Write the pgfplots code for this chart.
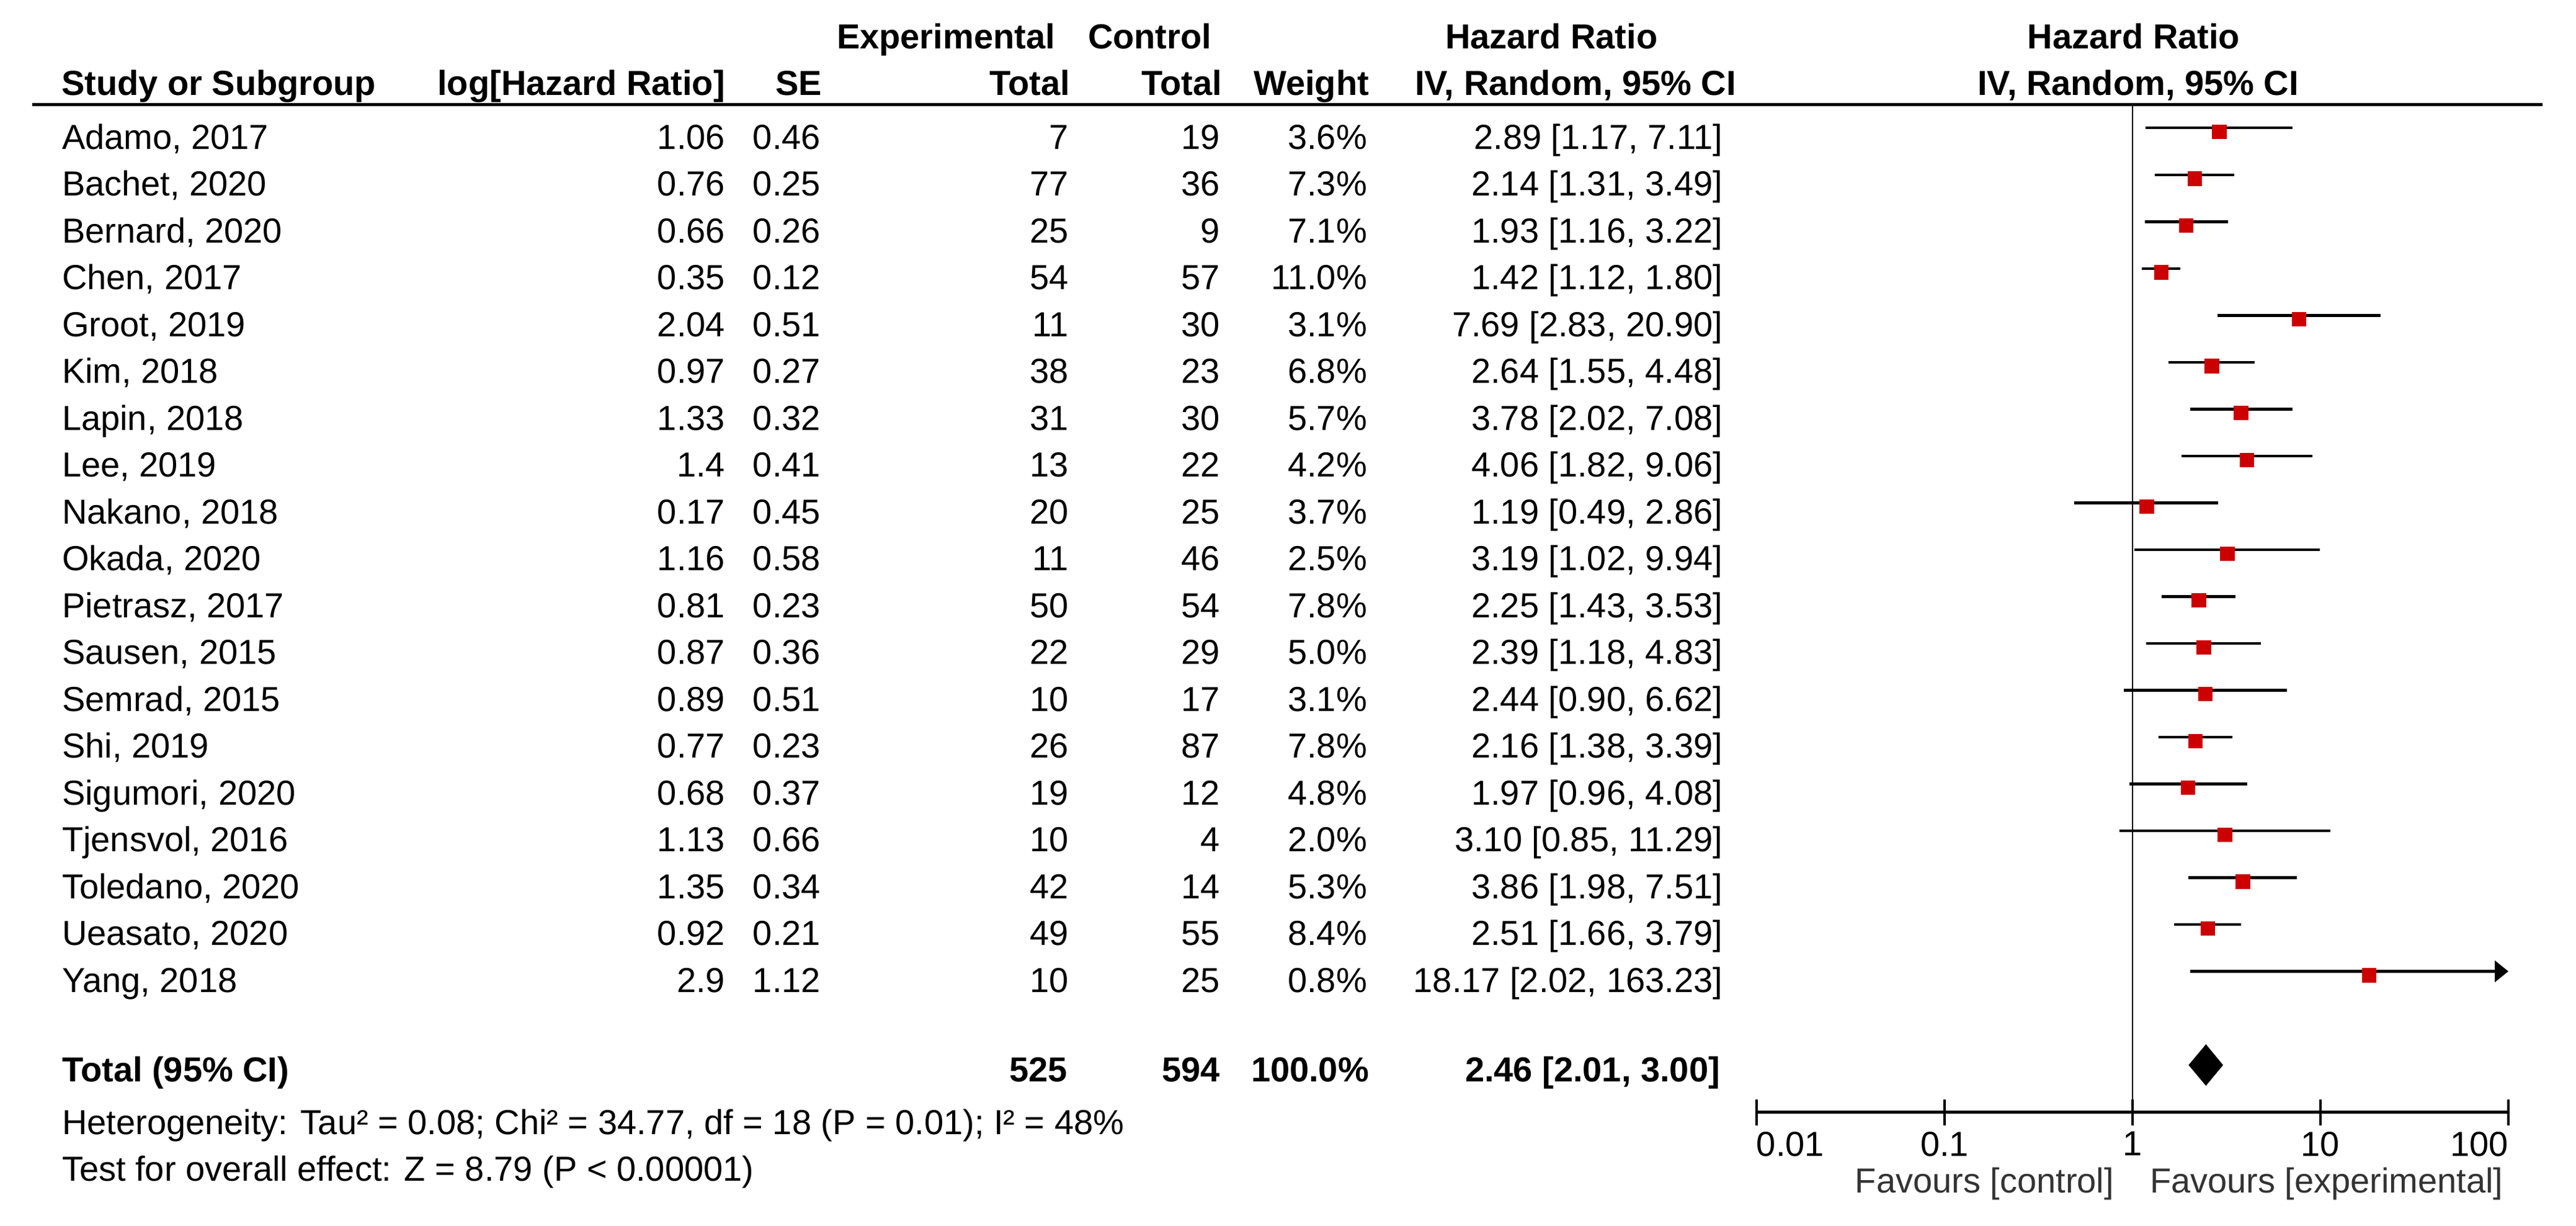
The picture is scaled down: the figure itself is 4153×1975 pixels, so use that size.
\documentclass[border=0pt]{standalone}
\usepackage{fontspec}
\setmainfont{Liberation Sans}
\usepackage{pgfplots}
\pgfplotsset{compat=1.18}
\usepackage{pgfplotstable}
\usetikzlibrary{arrows.meta}
\definecolor{hrred}{RGB}{204,0,0}

% row, hazard ratio, 95% CI, weight (%)
\pgfplotstableread{
r  hr    lo   hi     w
0  2.89  1.17 7.11   3.6
1  2.14  1.31 3.49   7.3
2  1.93  1.16 3.22   7.1
3  1.42  1.12 1.80   11.0
4  7.69  2.83 20.90  3.1
5  2.64  1.55 4.48   6.8
6  3.78  2.02 7.08   5.7
7  4.06  1.82 9.06   4.2
8  1.19  0.49 2.86   3.7
9  3.19  1.02 9.94   2.5
10 2.25  1.43 3.53   7.8
11 2.39  1.18 4.83   5.0
12 2.44  0.90 6.62   3.1
13 2.16  1.38 3.39   7.8
14 1.97  0.96 4.08   4.8
15 3.10  0.85 11.29  2.0
16 3.86  1.98 7.51   5.3
17 2.51  1.66 3.79   8.4
18 18.17 2.02 163.23 0.8
}\studies

% one line of the table: row, name, log HR, SE, exp total, ctrl total, weight, HR text
\newcommand{\studyrow}[8]{%
  \node[anchor=base west] at (99,{240+75.5*#1}) {#2};
  \node[anchor=base east] at (1170,{240+75.5*#1}) {#3};
  \node[anchor=base east] at (1324,{240+75.5*#1}) {#4};
  \node[anchor=base east] at (1724,{240+75.5*#1}) {#5};
  \node[anchor=base east] at (1968,{240+75.5*#1}) {#6};
  \node[anchor=base east] at (2205,{240+75.5*#1}) {#7};
  \node[anchor=base east] at (2778,{240+75.5*#1}) {#8};
}

\begin{document}
\begin{tikzpicture}
\begin{scope}[x=0.1786pt, y=-0.1786pt, every node/.style={inner sep=0pt}]
\useasboundingbox (0,0) rectangle (4153,1975);

% header
\node[anchor=base west, font=\bfseries] at (1348,78) {Experimental};
\node[anchor=base west, font=\bfseries] at (1753,78) {Control};
\node[anchor=base west, font=\bfseries] at (2329,78) {Hazard Ratio};
\node[anchor=base, font=\bfseries] at (3440,78) {Hazard Ratio};
\node[anchor=base west, font=\bfseries] at (98,153) {Study or Subgroup};
\node[anchor=base east, font=\bfseries] at (1170,153) {log[Hazard Ratio]};
\node[anchor=base east, font=\bfseries] at (1326,153) {SE};
\node[anchor=base east, font=\bfseries] at (1726,153) {Total};
\node[anchor=base east, font=\bfseries] at (1971,153) {Total};
\node[anchor=base east, font=\bfseries] at (2208,153) {Weight};
\node[anchor=base west, font=\bfseries] at (2280,153) {IV, Random, 95\% CI};
\node[anchor=base, font=\bfseries] at (3447,153) {IV, Random, 95\% CI};
\draw[line width=0.9pt] (52,168) -- (4099,168);

\studyrow{0}{Adamo, 2017}{1.06}{0.46}{7}{19}{3.6\%}{2.89 [1.17, 7.11]}
\studyrow{1}{Bachet, 2020}{0.76}{0.25}{77}{36}{7.3\%}{2.14 [1.31, 3.49]}
\studyrow{2}{Bernard, 2020}{0.66}{0.26}{25}{9}{7.1\%}{1.93 [1.16, 3.22]}
\studyrow{3}{Chen, 2017}{0.35}{0.12}{54}{57}{11.0\%}{1.42 [1.12, 1.80]}
\studyrow{4}{Groot, 2019}{2.04}{0.51}{11}{30}{3.1\%}{7.69 [2.83, 20.90]}
\studyrow{5}{Kim, 2018}{0.97}{0.27}{38}{23}{6.8\%}{2.64 [1.55, 4.48]}
\studyrow{6}{Lapin, 2018}{1.33}{0.32}{31}{30}{5.7\%}{3.78 [2.02, 7.08]}
\studyrow{7}{Lee, 2019}{1.4}{0.41}{13}{22}{4.2\%}{4.06 [1.82, 9.06]}
\studyrow{8}{Nakano, 2018}{0.17}{0.45}{20}{25}{3.7\%}{1.19 [0.49, 2.86]}
\studyrow{9}{Okada, 2020}{1.16}{0.58}{11}{46}{2.5\%}{3.19 [1.02, 9.94]}
\studyrow{10}{Pietrasz, 2017}{0.81}{0.23}{50}{54}{7.8\%}{2.25 [1.43, 3.53]}
\studyrow{11}{Sausen, 2015}{0.87}{0.36}{22}{29}{5.0\%}{2.39 [1.18, 4.83]}
\studyrow{12}{Semrad, 2015}{0.89}{0.51}{10}{17}{3.1\%}{2.44 [0.90, 6.62]}
\studyrow{13}{Shi, 2019}{0.77}{0.23}{26}{87}{7.8\%}{2.16 [1.38, 3.39]}
\studyrow{14}{Sigumori, 2020}{0.68}{0.37}{19}{12}{4.8\%}{1.97 [0.96, 4.08]}
\studyrow{15}{Tjensvol, 2016}{1.13}{0.66}{10}{4}{2.0\%}{3.10 [0.85, 11.29]}
\studyrow{16}{Toledano, 2020}{1.35}{0.34}{42}{14}{5.3\%}{3.86 [1.98, 7.51]}
\studyrow{17}{Ueasato, 2020}{0.92}{0.21}{49}{55}{8.4\%}{2.51 [1.66, 3.79]}
\studyrow{18}{Yang, 2018}{2.9}{1.12}{10}{25}{0.8\%}{18.17 [2.02, 163.23]}

% total row
\node[anchor=base west, font=\bfseries] at (99,1743) {Total (95\% CI)};
\node[anchor=base east, font=\bfseries] at (1722,1743) {525};
\node[anchor=base east, font=\bfseries] at (1968,1743) {594};
\node[anchor=base east, font=\bfseries] at (2208,1743) {100.0\%};
\node[anchor=base east, font=\bfseries] at (2774,1743) {2.46 [2.01, 3.00]};
\node[anchor=base west] at (99,1828) {Heterogeneity: Tau² = 0.08; Chi² = 34.77, df = 18 (P = 0.01); I² = 48\%};
\node[anchor=base west] at (99,1903) {Test for overall effect: Z = 8.79 (P < 0.00001)};

% favours labels
\node[anchor=base east, text=black!80] at (3409,1922) {Favours [control]};
\node[anchor=base west, text=black!80] at (3465,1922) {Favours [experimental]};
\end{scope}

\begin{axis}[
    at={(505.8pt,-320.2pt)}, anchor=south west,
    scale only axis, width=216.46pt, height=290.22pt,
    xmode=log, xmin=0.01, xmax=100,
    ymin=-21.01, ymax=0.51,
    axis x line*=bottom, axis y line=none, ytick=\empty,
    xtick={0.01,0.1,1,10,100},
    xticklabels={\makebox[0pt][l]{0.01},0.1,1,10,\makebox[0pt][r]{100}},
    xminorticks=false,
    xtick align=center, major tick length=7.5pt,
    every tick/.style={black, line width=0.8pt},
    x axis line style={black, line width=0.9pt},
    xticklabel style={anchor=north, inner sep=0pt, yshift=-1.6pt},
    clip=false,
]
% line of no effect
\addplot[black, line width=0.45pt] coordinates {(1,0.51) (1,-21.01)};

% confidence intervals
\addplot[black, line width=0.75pt, unbounded coords=jump] coordinates {
(1.17,0) (7.11,0) (nan,nan)
(1.31,-1) (3.49,-1) (nan,nan)
(1.16,-2) (3.22,-2) (nan,nan)
(1.12,-3) (1.80,-3) (nan,nan)
(2.83,-4) (20.90,-4) (nan,nan)
(1.55,-5) (4.48,-5) (nan,nan)
(2.02,-6) (7.08,-6) (nan,nan)
(1.82,-7) (9.06,-7) (nan,nan)
(0.49,-8) (2.86,-8) (nan,nan)
(1.02,-9) (9.94,-9) (nan,nan)
(1.43,-10) (3.53,-10) (nan,nan)
(1.18,-11) (4.83,-11) (nan,nan)
(0.90,-12) (6.62,-12) (nan,nan)
(1.38,-13) (3.39,-13) (nan,nan)
(0.96,-14) (4.08,-14) (nan,nan)
(0.85,-15) (11.29,-15) (nan,nan)
(1.98,-16) (7.51,-16) (nan,nan)
(1.66,-17) (3.79,-17)
};
% Yang, 2018: upper limit off the scale
\addplot[black, line width=0.75pt, -{Triangle[length=3.9pt, width=6.1pt]}] coordinates {(2.02,-18) (100,-18)};

% study estimates, square size from weight
\addplot[scatter, only marks, mark=square*,
    mark options={line width=0.1pt},
    visualization depends on={0.6+0.25*sqrt(\thisrow{w}) \as \msz},
    scatter/@pre marker code/.append style={/tikz/mark size=\msz},
    scatter/use mapped color={draw=hrred, fill=hrred}]
    table[x=hr, y expr=-\thisrow{r}-0.08] {\studies};

% pooled estimate
\addplot[black, fill=black, line width=0.4pt] coordinates {(2.01,-20) (2.46,-19.58) (3.00,-20) (2.46,-20.42)} -- cycle;
\end{axis}
\end{tikzpicture}
\end{document}
